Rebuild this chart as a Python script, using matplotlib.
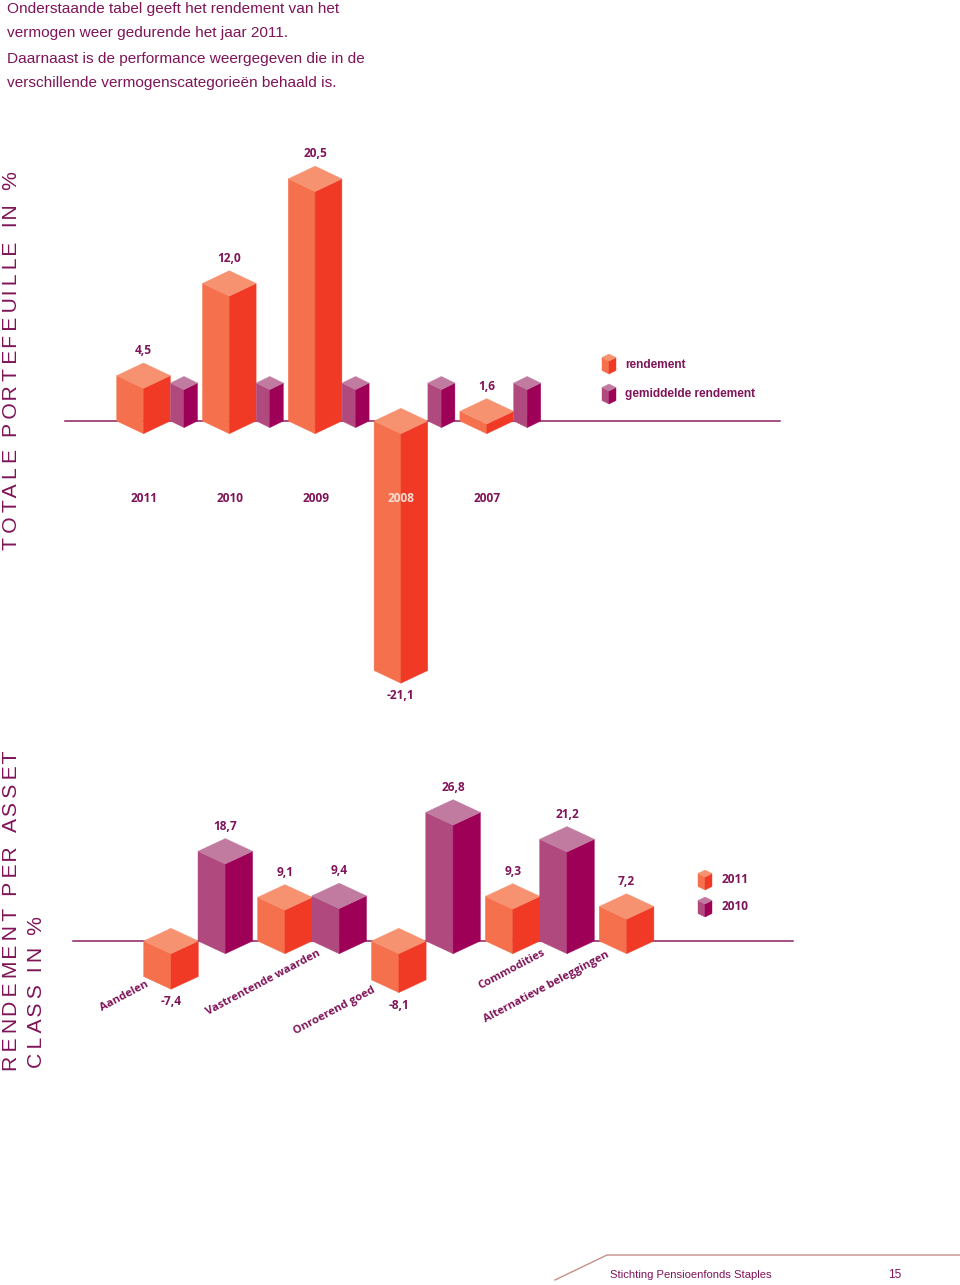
import numpy as np
import matplotlib
matplotlib.use("Agg")
import matplotlib.pyplot as plt
from matplotlib.patches import Polygon
from matplotlib.transforms import IdentityTransform

# ---- data ----
years = ["2011", "2010", "2009", "2008", "2007"]
rendement = [4.5, 12.0, 20.5, -21.1, 1.6]
rendement_labels = ["4,5", "12,0", "20,5", "-21,1", "1,6"]
gemiddelde = [3.9, 3.9, 3.9, 3.9, 3.9]   # unlabelled in the source

assets = ["Aandelen", "Vastrentende waarden", "Onroerend goed", "Commodities", "Alternatieve beleggingen"]
asset_2011 = [-7.4, 9.1, -8.1, 9.3, 7.2]
asset_2010 = [18.7, 9.4, 26.8, 21.2, np.nan]
asset_2011_labels = ["-7,4", "9,1", "-8,1", "9,3", "7,2"]
asset_2010_labels = ["18,7", "9,4", "26,8", "21,2", ""]

intro = ["Onderstaande tabel geeft het rendement van het",
         "vermogen weer gedurende het jaar 2011.",
         "Daarnaast is de performance weergegeven die in de",
         "verschillende vermogenscategorieën behaald is."]

# ---- styling ----
W, H = 960, 1285
ORANGE = dict(left="#F5714D", right="#F13A26", top="#F6926F")
PURPLE = dict(left="#B04A7E", right="#9E0058", top="#C27BA0")
TEXT = "#7F1458"
LINE = "#8C2163"
BOLD = ["Open Sans", "DejaVu Sans"]
SWISS = ["Liberation Sans", "DejaVu Sans"]

fig = plt.figure(figsize=(W / 100, H / 100), dpi=100, facecolor="white")


def px_axes(left, right, top, bottom):
    """Invisible axes placed by pixel edges (y measured from the top of the page)."""
    ax = fig.add_axes([left / W, 1 - bottom / H, (right - left) / W, (bottom - top) / H])
    ax.axis("off")
    return ax


def py(y):
    return H - y


def poly(pts, color, z):
    fig.add_artist(Polygon(pts, closed=True, facecolor=color, edgecolor=color, lw=0.3,
                           transform=IdentityTransform(), zorder=z))


def bar3d(ax, x, value, hw, dy, c, z=3):
    """Isometric bar: front-left edge runs from 0 to value on the axes' y scale."""
    x0, y0 = ax.transData.transform((x, 0.0))
    _, yv = ax.transData.transform((x, value))
    lo, hi = min(y0, yv), max(y0, yv)
    poly([(x0 - hw, hi), (x0, hi - dy), (x0, lo - dy), (x0 - hw, lo)], c["left"], z)
    poly([(x0 + hw, hi), (x0, hi - dy), (x0, lo - dy), (x0 + hw, lo)], c["right"], z)
    poly([(x0 - hw, hi), (x0, hi + dy), (x0 + hw, hi), (x0, hi - dy)], c["top"], z)
    return x0, hi + dy, lo - dy


def value_label(x0, top, bottom, value, text, dx=0):
    yp = top + 12.5 if value >= 0 else bottom - 12.5
    fig.text((x0 + dx) / W, yp / H, text, ha="center", va="center", family=BOLD,
             fontweight="bold", fontsize=8.6, color=TEXT, zorder=6)


def key_cube(cx, ytop, c):
    hw, dy, h = 7, 3.5, 13
    yt = py(ytop) - dy
    poly([(cx - hw, yt), (cx, yt - dy), (cx, yt - dy - h), (cx - hw, yt - h)], c["left"], 5)
    poly([(cx + hw, yt), (cx, yt - dy), (cx, yt - dy - h), (cx + hw, yt - h)], c["right"], 5)
    poly([(cx - hw, yt), (cx, yt + dy), (cx + hw, yt), (cx, yt - dy)], c["top"], 5)


def spaced(s):
    """Letter-spacing: two thin spaces for each hair space, cycling through the string."""
    out = s[0]
    for i, ch in enumerate(s[1:]):
        out += ("\u200a" if i % 3 == 2 else "\u2009") + ch
    return out


# ---- intro text ----
for i, line in enumerate(intro):
    fig.text(7 / W, 1 - (8.5 + 25 * i) / H, line, ha="left", va="center", family=SWISS,
             fontsize=11.1, color=TEXT)

# ---- chart 1: total portfolio ----
A = 12.3
B = 10.0
span1 = A * 25 - B
ax1 = px_axes(143.5 - 85.8, 143.5 + 85.8 * 8, 421 - span1, 421 + span1)
ax1.set_yscale("function", functions=(
    lambda v: np.sign(v) * np.clip(A * np.abs(v) - B, 0, None),
    lambda y: np.sign(y) * (np.abs(y) + B) / A))
ax1.set_xlim(-1, 8)
ax1.set_ylim(-25, 25)
fig.add_artist(plt.Line2D([65, 780], [py(421), py(421)], color=LINE, lw=1.1,
                          transform=IdentityTransform(), zorder=1))
AVG_DX = 40.5 / 85.8
for i, (y, v, lab, g) in enumerate(zip(years, rendement, rendement_labels, gemiddelde)):
    x0, top, bottom = bar3d(ax1, i, v, 26.8, 12.7, ORANGE)
    bar3d(ax1, i + AVG_DX, g, 13.5, 6.6, PURPLE)
    value_label(x0, top, bottom, v, lab)
    fig.text((x0 + 0.5) / W, 1 - 499 / H, y, ha="center", va="center", family=BOLD,
             fontweight="bold", fontsize=8.6,
             color="#FBDDD2" if y == "2008" else TEXT, zorder=6)

key_cube(609, 354, ORANGE)
key_cube(609, 384, PURPLE)
for label, yy in (("rendement", 365), ("gemiddelde rendement", 394)):
    fig.text(625 / W, 1 - yy / H, label, ha="left", va="center", family=SWISS,
             fontweight="bold", fontsize=8.6, color=TEXT)

fig.text(11.5 / W, 1 - 360.5 / H, spaced("TOTALE PORTEFEUILLE IN %"), rotation=90, ha="center",
         va="center", family=SWISS, fontsize=15.2, color=TEXT)
fig.text(11.5 / W, 1 - 910.5 / H, spaced("RENDEMENT PER ASSET"), rotation=90, ha="center",
         va="center", family=SWISS, fontsize=15.2, color=TEXT)
fig.text(36.5 / W, 1 - 992.5 / H, spaced("CLASS IN %"), rotation=90, ha="center",
         va="center", family=SWISS, fontsize=15.2, color=TEXT)

# ---- chart 2: return per asset class ----
SC = 4.8
ax2 = px_axes(171 - 113.9, 171 + 113.9 * 6, 941 - 40 * SC, 941 + 40 * SC)
ax2.set_xlim(-1, 6)
ax2.set_ylim(-40, 40)
fig.add_artist(plt.Line2D([73, 793], [py(941), py(941)], color=LINE, lw=1.1,
                          transform=IdentityTransform(), zorder=1))
PAIR_DX = 54.3 / 113.9
for i in range(len(assets)):
    x0, top, bottom = bar3d(ax2, i, asset_2011[i], 27.3, 12.7, ORANGE)
    value_label(x0, top, bottom, asset_2011[i], asset_2011_labels[i])
    if not np.isnan(asset_2010[i]):
        x0, top, bottom = bar3d(ax2, i + PAIR_DX, asset_2010[i], 27.3, 12.7, PURPLE)
        value_label(x0, top, bottom, asset_2010[i], asset_2010_labels[i])

label_centers = [(124, 996), (263, 983), (335, 1011), (512, 969), (546, 987)]
for name, (cx, cy) in zip(assets, label_centers):
    fig.text(cx / W, 1 - cy / H, name, rotation=28, ha="center", va="center", family=BOLD,
             fontweight="bold", fontsize=8.1, color=TEXT, zorder=6)

key_cube(705, 870, ORANGE)
key_cube(705, 897, PURPLE)
for label, yy in (("2011", 879.5), ("2010", 906.5)):
    fig.text(722 / W, 1 - yy / H, label, ha="left", va="center", family=BOLD,
             fontweight="bold", fontsize=8.6, color=TEXT)

# ---- footer ----
fig.add_artist(plt.Line2D([555, 607, 960], [py(1280), py(1255), py(1255)], color="#C58F8B",
                          lw=1.0, transform=IdentityTransform(), zorder=1))
fig.text(610 / W, 1 - 1275.5 / H, "Stichting Pensioenfonds Staples", ha="left", va="center",
         family=SWISS, fontsize=8.15, color=TEXT)
fig.text(895 / W, 1 - 1275.5 / H, "15", ha="center", va="center", family=SWISS, fontsize=8.6,
         color=TEXT)

fig.savefig("out.png", dpi=100, facecolor="white")
